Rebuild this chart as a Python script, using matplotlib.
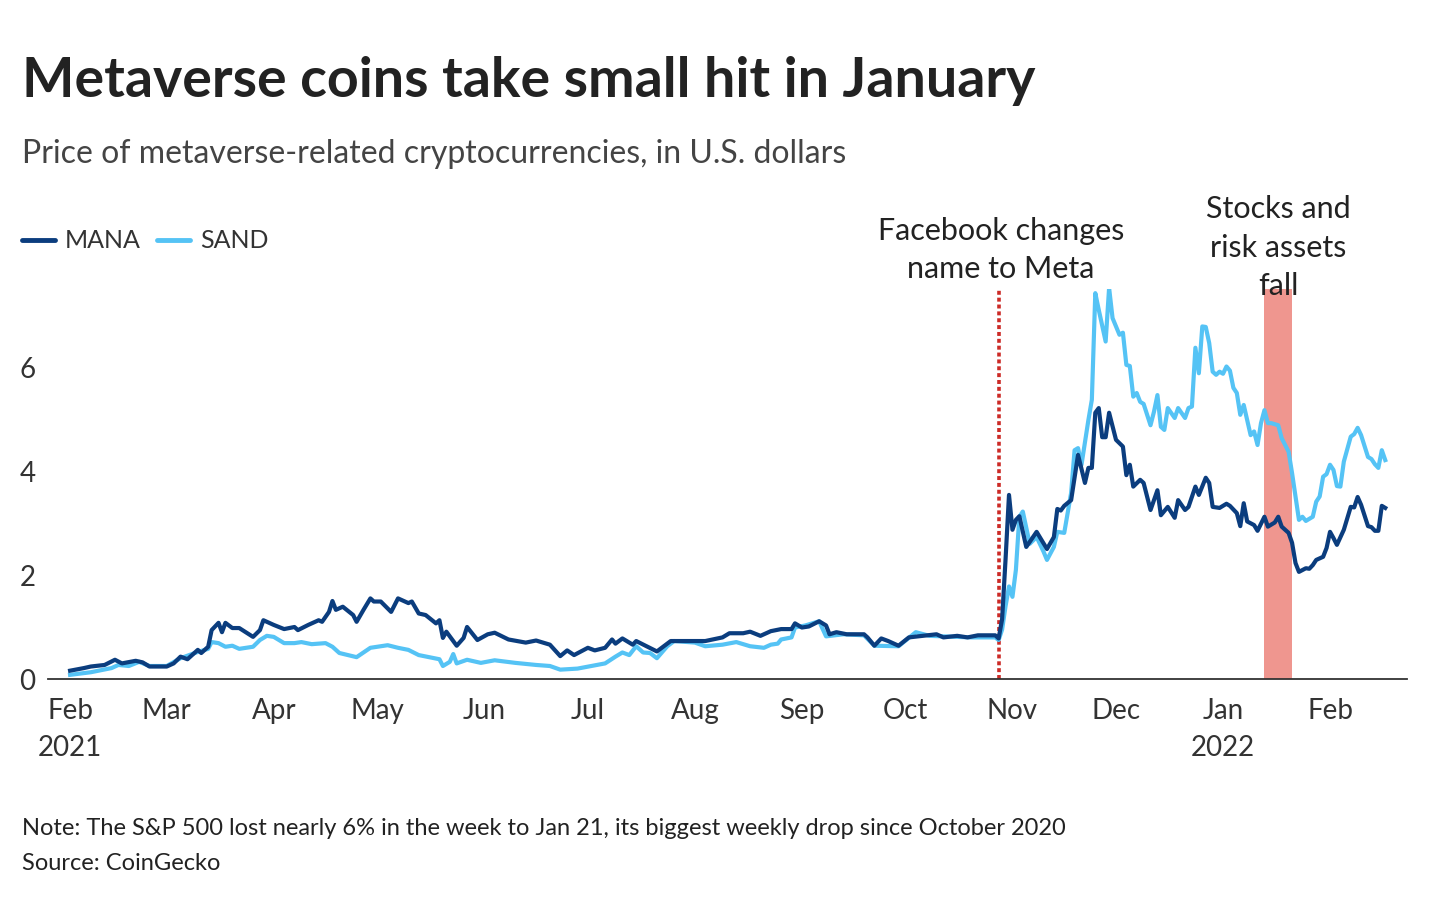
import pandas as pd
import matplotlib.pyplot as plt

# days since 2021-02-01 and price in USD
mana_day = [0, 4, 6, 10, 13, 15, 19, 21, 23, 28, 30, 32, 34, 37, 38, 40, 41, 43, 44, 45,
            47, 49, 53, 55, 56, 59, 62, 65, 66, 69, 72, 73, 75, 76, 77, 79, 82, 83, 85, 87,
            88, 90, 93, 95, 98, 99, 101, 103, 106, 107, 108, 109, 112, 114, 115, 118, 121, 123, 127, 132,
            135, 139, 142, 144, 146, 150, 152, 155, 157, 158, 160, 163, 164, 167, 170, 174, 179, 184, 189, 191,
            195, 197, 200, 203, 206, 209, 210, 212, 214, 217, 219, 220, 222, 225, 230, 231, 233, 235, 237, 240,
            243, 247, 251, 253, 257, 260, 263, 268, 269, 270, 271, 272, 273, 274, 275, 277, 280, 283, 285, 286,
            287, 288, 290, 292, 294, 295, 296, 297, 298, 299, 300, 301, 303, 305, 306, 307, 308, 310, 311, 313,
            315, 316, 318, 320, 321, 323, 324, 326, 327, 329, 330, 331, 333, 335, 336, 338, 339, 340, 341, 343,
            344, 346, 347, 349, 350, 351, 353, 354, 355, 356, 358, 359, 360, 361, 363, 364, 365, 366, 367, 369,
            371, 372, 373, 374, 376, 377, 378, 379, 380, 381]
mana_price = [0.16, 0.21, 0.24, 0.27, 0.37, 0.30, 0.35, 0.32, 0.24, 0.24, 0.30, 0.43, 0.38, 0.56, 0.50, 0.62, 0.94, 1.08, 0.90, 1.08,
              0.98, 0.98, 0.81, 0.94, 1.13, 1.04, 0.96, 1.00, 0.94, 1.04, 1.13, 1.10, 1.29, 1.50, 1.33, 1.39, 1.23, 1.10, 1.33, 1.55,
              1.49, 1.49, 1.29, 1.55, 1.46, 1.49, 1.26, 1.23, 1.07, 1.13, 0.79, 0.91, 0.64, 0.79, 1.00, 0.75, 0.86, 0.89, 0.76, 0.70,
              0.74, 0.66, 0.44, 0.55, 0.46, 0.60, 0.55, 0.60, 0.76, 0.68, 0.78, 0.66, 0.73, 0.63, 0.53, 0.73, 0.73, 0.73, 0.80, 0.88,
              0.88, 0.91, 0.83, 0.92, 0.96, 0.96, 1.07, 0.99, 1.01, 1.11, 1.03, 0.86, 0.90, 0.86, 0.86, 0.80, 0.64, 0.78, 0.73, 0.64,
              0.80, 0.83, 0.86, 0.80, 0.83, 0.80, 0.84, 0.84, 0.78, 1.15, 2.30, 3.54, 2.87, 3.06, 3.13, 2.54, 2.83, 2.50, 2.73, 3.27,
              3.24, 3.33, 3.44, 4.31, 3.77, 4.06, 4.06, 5.12, 5.21, 4.65, 4.65, 5.12, 4.60, 4.47, 3.92, 4.12, 3.70, 3.83, 3.77, 3.25,
              3.63, 3.15, 3.31, 3.10, 3.44, 3.25, 3.31, 3.70, 3.54, 3.87, 3.77, 3.31, 3.29, 3.37, 3.33, 3.19, 2.94, 3.38, 3.03, 2.96,
              2.85, 3.12, 2.93, 3.01, 3.12, 2.93, 2.81, 2.62, 2.23, 2.06, 2.13, 2.12, 2.19, 2.29, 2.35, 2.52, 2.83, 2.71, 2.58, 2.87,
              3.31, 3.30, 3.50, 3.35, 2.94, 2.92, 2.85, 2.85, 3.33, 3.29]

sand_day = [0, 6, 12, 14, 17, 20, 23, 28, 32, 37, 40, 41, 43, 45, 47, 49, 53, 55, 57, 59,
            62, 65, 67, 70, 74, 76, 78, 83, 87, 92, 95, 98, 101, 104, 107, 108, 110, 111, 112, 115,
            119, 123, 129, 135, 139, 142, 147, 151, 155, 158, 160, 162, 164, 166, 168, 170, 173, 175, 181, 184,
            189, 193, 197, 201, 203, 205, 206, 209, 210, 213, 217, 219, 224, 230, 233, 240, 245, 249, 253, 261,
            268, 269, 270, 271, 272, 273, 274, 275, 276, 278, 280, 282, 283, 285, 286, 288, 290, 291, 292, 293,
            295, 296, 297, 298, 300, 301, 302, 304, 305, 306, 307, 308, 309, 310, 311, 313, 314, 315, 316, 317,
            318, 320, 321, 323, 324, 325, 326, 327, 328, 329, 330, 331, 332, 333, 334, 335, 336, 337, 338, 339,
            340, 342, 343, 344, 345, 346, 347, 348, 350, 351, 353, 354, 355, 356, 357, 358, 360, 361, 362, 363,
            364, 365, 366, 367, 368, 369, 371, 372, 373, 374, 376, 377, 378, 379, 380, 381]
sand_price = [0.08, 0.13, 0.21, 0.27, 0.25, 0.33, 0.25, 0.25, 0.40, 0.52, 0.58, 0.71, 0.69, 0.62, 0.64, 0.58, 0.62, 0.75, 0.83, 0.81,
              0.69, 0.69, 0.71, 0.67, 0.69, 0.62, 0.50, 0.42, 0.60, 0.65, 0.60, 0.56, 0.46, 0.42, 0.38, 0.25, 0.33, 0.48, 0.30, 0.37,
              0.31, 0.36, 0.31, 0.27, 0.25, 0.18, 0.20, 0.25, 0.30, 0.43, 0.51, 0.46, 0.63, 0.51, 0.50, 0.40, 0.63, 0.73, 0.70, 0.63,
              0.66, 0.71, 0.63, 0.60, 0.66, 0.68, 0.76, 0.80, 0.99, 1.03, 1.11, 0.82, 0.86, 0.84, 0.64, 0.63, 0.90, 0.83, 0.82, 0.80,
              0.80, 0.75, 0.95, 1.40, 1.78, 1.58, 2.10, 3.12, 3.22, 2.60, 2.73, 2.45, 2.29, 2.54, 2.83, 2.81, 3.58, 4.40, 4.44, 4.12,
              4.98, 5.37, 7.42, 7.10, 6.49, 7.52, 6.94, 6.62, 6.66, 6.04, 6.02, 5.43, 5.50, 5.33, 5.29, 4.88, 5.14, 5.46, 4.85, 4.79,
              5.21, 5.02, 5.21, 5.02, 5.21, 5.24, 6.37, 5.88, 6.78, 6.77, 6.46, 5.91, 5.85, 5.91, 5.87, 6.01, 5.93, 5.60, 5.50, 5.08,
              5.27, 4.69, 4.76, 4.50, 4.92, 5.17, 4.92, 4.92, 4.88, 4.63, 4.37, 3.96, 3.51, 3.06, 3.12, 3.04, 3.12, 3.41, 3.51, 3.89,
              3.94, 4.12, 4.02, 3.71, 3.70, 4.18, 4.66, 4.71, 4.83, 4.69, 4.27, 4.23, 4.13, 4.06, 4.40, 4.21]

start = pd.Timestamp('2021-02-01')
meta_day = pd.Timestamp('2021-10-28')
selloff = (pd.Timestamp('2022-01-13'), pd.Timestamp('2022-01-21'))

mana_dates = start + pd.to_timedelta(mana_day, unit='D')
sand_dates = start + pd.to_timedelta(sand_day, unit='D')

DARK = '#222222'
GREY = '#333333'
MANA_C = '#0b3d7e'
SAND_C = '#55c3f5'

plt.rcParams['font.family'] = 'Lato'

fig = plt.figure(figsize=(14.32, 9.06), dpi=100)
ax = fig.add_axes([48 / 1432, 1 - 679 / 906, (1407 - 48) / 1432, (679 - 289) / 906])

ax.axvspan(selloff[0], selloff[1], color='#ef968f', lw=0, zorder=1)
ax.axvline(meta_day, color='#cc2a26', lw=2.6, linestyle=(0, (1.1, 0.8)), zorder=2)
ax.plot(sand_dates, sand_price, color=SAND_C, lw=3, solid_joinstyle='round', zorder=3)
ax.plot(mana_dates, mana_price, color=MANA_C, lw=3, solid_joinstyle='round', zorder=4)

ax.set_ylim(0, 7.5)
ax.set_xlim(start - pd.Timedelta(days=6.4), start + pd.Timedelta(days=387.3))
ax.set_yticks([0, 2, 4, 6])
ax.tick_params(axis='y', length=0, pad=9, labelsize=20, labelcolor=GREY)

months = pd.date_range('2021-02-01', '2022-02-01', freq='MS')
labels = [m.strftime('%b') for m in months]
labels[0] = 'Feb\n2021'
labels[11] = 'Jan\n2022'
ax.set_xticks(months)
ax.set_xticklabels(labels, linespacing=1.5)
ax.tick_params(axis='x', length=0, pad=14, labelsize=20, labelcolor=GREY)

for s in ['top', 'right', 'left']:
    ax.spines[s].set_visible(False)
ax.spines['bottom'].set_color('#333333')
ax.spines['bottom'].set_linewidth(1.3)
ax.spines['bottom'].set_zorder(5)

# titles
fig.text(22 / 1432, 1 - 97 / 906, 'Metaverse coins take small hit in January',
         fontsize=40, fontweight='bold', color=DARK, va='baseline')
fig.text(22 / 1432, 1 - 163 / 906, 'Price of metaverse-related cryptocurrencies, in U.S. dollars',
         fontsize=23, color='#444444', va='baseline')

# legend
for x0, name, c in [(22, 'MANA', MANA_C), (157, 'SAND', SAND_C)]:
    fig.add_artist(plt.Line2D([x0 / 1432, (x0 + 33) / 1432], [1 - 240 / 906] * 2,
                              color=c, lw=3.5, solid_capstyle='round'))
    fig.text((x0 + 43) / 1432, 1 - 240 / 906, name, fontsize=18, color=GREY, va='center')

# annotations
fig.text(1001 / 1432, 1 - 278 / 906, 'Facebook changes\nname to Meta', ha='center',
         va='baseline', fontsize=22, color=DARK, linespacing=1.45)
fig.text(1278 / 1432, 1 - 295 / 906, 'Stocks and\nrisk assets\nfall', ha='center',
         va='baseline', fontsize=22, color=DARK, linespacing=1.45)

# footer
fig.text(22 / 1432, 1 - 835 / 906,
         'Note: The S&P 500 lost nearly 6% in the week to Jan 21, its biggest weekly drop since October 2020',
         fontsize=17, color=DARK, va='baseline')
fig.text(22 / 1432, 1 - 870 / 906, 'Source: CoinGecko', fontsize=17, color=DARK, va='baseline')

fig.savefig('out.png', dpi=100, facecolor='white')
